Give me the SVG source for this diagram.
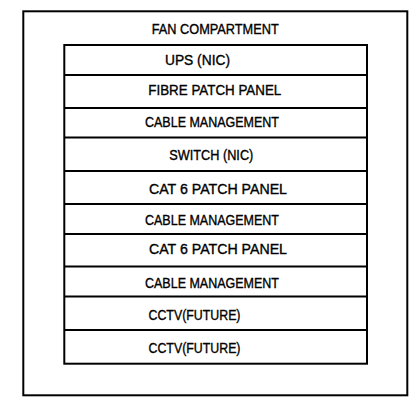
<svg xmlns="http://www.w3.org/2000/svg" width="412" height="405" viewBox="0 0 412 405">
<style>
.frame{fill:#fff;stroke:#000;stroke-width:2}
.row{fill:none;stroke:#000;stroke-width:2}
.lbl{font-family:"Liberation Sans",Arial,sans-serif;font-size:14px;fill:#000;stroke:#000;stroke-width:0.35}
</style>
<rect width="412" height="405" fill="#fff"/>
<g id="cabinet">
<rect class="frame" x="23.3" y="11.3" width="384" height="384"/>
<text class="lbl" x="151.7" y="34" textLength="127" lengthAdjust="spacingAndGlyphs">FAN COMPARTMENT</text>
</g>
<g id="rack">
<rect class="row" x="64.3" y="45" width="302.7" height="318.7"/>
</g>
<g id="connectors">
<line class="row" x1="64.3" y1="75" x2="367" y2="75"/>
<line class="row" x1="64.3" y1="108" x2="367" y2="108"/>
<line class="row" x1="64.3" y1="137.5" x2="367" y2="137.5"/>
<line class="row" x1="64.3" y1="171" x2="367" y2="171"/>
<line class="row" x1="64.3" y1="204" x2="367" y2="204"/>
<line class="row" x1="64.3" y1="234" x2="367" y2="234"/>
<line class="row" x1="64.3" y1="266.5" x2="367" y2="266.5"/>
<line class="row" x1="64.3" y1="296.5" x2="367" y2="296.5"/>
<line class="row" x1="64.3" y1="330" x2="367" y2="330"/>
</g>
<g id="ups"><text class="lbl" x="165" y="65" textLength="65" lengthAdjust="spacingAndGlyphs">UPS (NIC)</text></g>
<g id="fibre"><text class="lbl" x="148.3" y="95" textLength="133" lengthAdjust="spacingAndGlyphs">FIBRE PATCH PANEL</text></g>
<g id="cable1"><text class="lbl" x="145" y="126.5" textLength="134" lengthAdjust="spacingAndGlyphs">CABLE MANAGEMENT</text></g>
<g id="switch"><text class="lbl" x="169.3" y="160" textLength="84" lengthAdjust="spacingAndGlyphs">SWITCH (NIC)</text></g>
<g id="cat6a"><text class="lbl" x="149" y="194" textLength="138" lengthAdjust="spacingAndGlyphs">CAT 6 PATCH PANEL</text></g>
<g id="cable2"><text class="lbl" x="145" y="225" textLength="134" lengthAdjust="spacingAndGlyphs">CABLE MANAGEMENT</text></g>
<g id="cat6b"><text class="lbl" x="149" y="254" textLength="138" lengthAdjust="spacingAndGlyphs">CAT 6 PATCH PANEL</text></g>
<g id="cable3"><text class="lbl" x="145" y="287.5" textLength="134" lengthAdjust="spacingAndGlyphs">CABLE MANAGEMENT</text></g>
<g id="cctv1"><text class="lbl" x="148.5" y="320" textLength="92" lengthAdjust="spacingAndGlyphs">CCTV(FUTURE)</text></g>
<g id="cctv2"><text class="lbl" x="148.5" y="352.5" textLength="92" lengthAdjust="spacingAndGlyphs">CCTV(FUTURE)</text></g>
</svg>
